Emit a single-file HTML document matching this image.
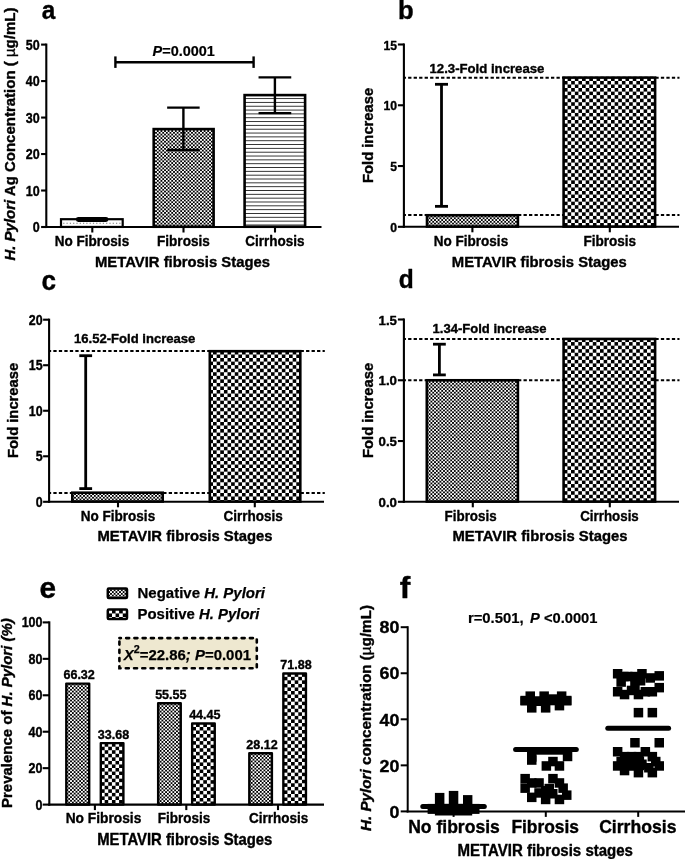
<!DOCTYPE html>
<html><head><meta charset="utf-8"><title>Figure</title>
<style>
html,body{margin:0;padding:0;background:#fff;}
body{width:685px;height:859px;overflow:hidden;font-family:"Liberation Sans",sans-serif;}
svg{display:block;will-change:transform;}
svg text{font-family:"Liberation Sans",sans-serif;fill:#000;stroke:#000;stroke-width:0.38px;stroke-linejoin:round;}
</style></head><body>
<svg width="685" height="859" viewBox="0 0 685 859">
<defs>
<pattern id="fine" width="3.6" height="3.56" patternUnits="userSpaceOnUse" x="0.3" y="0.2">
<rect width="3.6" height="3.56" fill="#fff"/><rect x="0" y="0" width="1.8" height="1.78" fill="#000"/><rect x="1.8" y="1.78" width="1.8" height="1.78" fill="#000"/>
</pattern>
<pattern id="chk" width="7.2" height="7.1" patternUnits="userSpaceOnUse" x="0.35" y="2.85">
<rect width="7.2" height="7.1" fill="#fff"/><rect x="0" y="0" width="3.6" height="3.55" fill="#000"/><rect x="3.6" y="3.55" width="3.6" height="3.55" fill="#000"/>
</pattern>
<pattern id="hl" width="10" height="3.83" patternUnits="userSpaceOnUse" y="98.1">
<rect width="10" height="3.83" fill="#fff"/><rect x="0" y="0" width="10" height="0.9" fill="#222"/>
</pattern>
<pattern id="dots" width="3.2" height="20" patternUnits="userSpaceOnUse" x="0" y="212">
<rect width="3.2" height="20" fill="#fff"/><rect x="0" y="10.5" width="1.2" height="1.2" fill="#777"/>
</pattern>
</defs>
<rect width="685" height="859" fill="#fff"/>

<text transform="translate(41.8,18.8) scale(0.92,1)" font-size="26.50" font-weight="bold" text-anchor="start" >a</text>
<text transform="translate(398.0,18.8) scale(0.97,1)" font-size="26.50" font-weight="bold" text-anchor="start" >b</text>
<text transform="translate(41.6,289.5) scale(0.96,1)" font-size="27.20" font-weight="bold" text-anchor="start" >c</text>
<text transform="translate(398.8,288.0) scale(0.98,1)" font-size="25.00" font-weight="bold" text-anchor="start" >d</text>
<text transform="translate(39.4,597.9) scale(1.0,1)" font-size="29.80" font-weight="bold" text-anchor="start" >e</text>
<text transform="translate(399.8,598.0) scale(1.05,1)" font-size="30.30" font-weight="bold" text-anchor="start" >f</text>
<line x1="46.3" y1="43.550000000000004" x2="46.3" y2="228.05" stroke="#000" stroke-width="2.1" />
<line x1="45.25" y1="227.0" x2="321.5" y2="227.0" stroke="#000" stroke-width="2.1" />
<line x1="41.099999999999994" y1="227.0" x2="46.3" y2="227.0" stroke="#000" stroke-width="2.1" />
<line x1="41.099999999999994" y1="190.51999999999998" x2="46.3" y2="190.51999999999998" stroke="#000" stroke-width="2.1" />
<line x1="41.099999999999994" y1="154.04" x2="46.3" y2="154.04" stroke="#000" stroke-width="2.1" />
<line x1="41.099999999999994" y1="117.56" x2="46.3" y2="117.56" stroke="#000" stroke-width="2.1" />
<line x1="41.099999999999994" y1="81.07999999999998" x2="46.3" y2="81.07999999999998" stroke="#000" stroke-width="2.1" />
<line x1="41.099999999999994" y1="44.599999999999994" x2="46.3" y2="44.599999999999994" stroke="#000" stroke-width="2.1" />
<line x1="92.3" y1="227.0" x2="92.3" y2="232.5" stroke="#000" stroke-width="2.1" />
<line x1="183.5" y1="227.0" x2="183.5" y2="232.5" stroke="#000" stroke-width="2.1" />
<line x1="275.0" y1="227.0" x2="275.0" y2="232.5" stroke="#000" stroke-width="2.1" />
<text transform="translate(39.6,232.2) scale(0.845,1)" font-size="14.80" font-weight="bold" text-anchor="end" >0</text>
<text transform="translate(39.6,195.71999999999997) scale(0.845,1)" font-size="14.80" font-weight="bold" text-anchor="end" >10</text>
<text transform="translate(39.6,159.23999999999998) scale(0.845,1)" font-size="14.80" font-weight="bold" text-anchor="end" >20</text>
<text transform="translate(39.6,122.76) scale(0.845,1)" font-size="14.80" font-weight="bold" text-anchor="end" >30</text>
<text transform="translate(39.6,86.27999999999999) scale(0.845,1)" font-size="14.80" font-weight="bold" text-anchor="end" >40</text>
<text transform="translate(39.6,49.8) scale(0.845,1)" font-size="14.80" font-weight="bold" text-anchor="end" >50</text>
<rect x="61.00" y="219.20" width="61.70" height="7.75" fill="#fff" stroke="#000" stroke-width="2.2"/>
<line x1="63.2" y1="223.2" x2="121" y2="223.2" stroke="#777" stroke-width="1.1" stroke-dasharray="1.2 2.1"/>
<rect x="153.70" y="129.10" width="59.90" height="97.65" fill="url(#fine)" stroke="#000" stroke-width="2.6"/>
<rect x="244.60" y="95.10" width="60.50" height="131.65" fill="url(#hl)" stroke="#000" stroke-width="2.6"/>
<rect x="75.9" y="216.9" width="32.5" height="5.1" rx="2.4" fill="#000"/>
<line x1="183.4" y1="107.6" x2="183.4" y2="150.0" stroke="#000" stroke-width="2.4" />
<line x1="167.15" y1="107.6" x2="199.65" y2="107.6" stroke="#000" stroke-width="2.4" />
<line x1="167.15" y1="150.0" x2="199.65" y2="150.0" stroke="#000" stroke-width="2.4" />
<line x1="274.9" y1="77.4" x2="274.9" y2="113.1" stroke="#000" stroke-width="2.4" />
<line x1="258.54999999999995" y1="77.4" x2="291.25" y2="77.4" stroke="#000" stroke-width="2.4" />
<line x1="258.54999999999995" y1="113.1" x2="291.25" y2="113.1" stroke="#000" stroke-width="2.4" />
<line x1="115.4" y1="62.2" x2="253.6" y2="62.2" stroke="#000" stroke-width="2.4" />
<line x1="115.4" y1="56.4" x2="115.4" y2="67.9" stroke="#000" stroke-width="2.4" />
<line x1="253.6" y1="56.4" x2="253.6" y2="67.9" stroke="#000" stroke-width="2.4" />
<text x="152.6" y="55.5" font-size="15.00" font-weight="bold" text-anchor="start" textLength="62.20" lengthAdjust="spacingAndGlyphs" style="stroke-width:0.2px"><tspan font-style="italic">P</tspan>=0.0001</text>
<text x="92.0" y="245.6" font-size="15.20" font-weight="bold" text-anchor="middle" textLength="74.30" lengthAdjust="spacingAndGlyphs" >No Fibrosis</text>
<text x="183.4" y="245.6" font-size="15.20" font-weight="bold" text-anchor="middle" textLength="52.70" lengthAdjust="spacingAndGlyphs" >Fibrosis</text>
<text x="274.9" y="245.6" font-size="15.20" font-weight="bold" text-anchor="middle" textLength="59.30" lengthAdjust="spacingAndGlyphs" >Cirrhosis</text>
<text x="182.5" y="266.7" font-size="15.40" font-weight="bold" text-anchor="middle" textLength="175.00" lengthAdjust="spacingAndGlyphs" >METAVIR fibrosis Stages</text>
<text transform="translate(14.9,260.6) rotate(-90)" font-size="14.20" font-weight="bold" text-anchor="start" textLength="253.00" lengthAdjust="spacingAndGlyphs"><tspan font-style="italic">H. Pylori</tspan> Ag Concentration ( <tspan font-weight="normal">µ</tspan>g/mL)</text>
<line x1="403.9" y1="43.45" x2="403.9" y2="227.85000000000002" stroke="#000" stroke-width="2.1" />
<line x1="402.84999999999997" y1="226.8" x2="679.0" y2="226.8" stroke="#000" stroke-width="2.1" />
<line x1="397.9" y1="226.8" x2="403.9" y2="226.8" stroke="#000" stroke-width="2.1" />
<line x1="397.9" y1="166.03333333333333" x2="403.9" y2="166.03333333333333" stroke="#000" stroke-width="2.1" />
<line x1="397.9" y1="105.26666666666667" x2="403.9" y2="105.26666666666667" stroke="#000" stroke-width="2.1" />
<line x1="397.9" y1="44.5" x2="403.9" y2="44.5" stroke="#000" stroke-width="2.1" />
<line x1="472.4" y1="226.8" x2="472.4" y2="232.3" stroke="#000" stroke-width="2.1" />
<line x1="609.8" y1="226.8" x2="609.8" y2="232.3" stroke="#000" stroke-width="2.1" />
<text transform="translate(397.0,232.0) scale(0.89,1)" font-size="13.70" font-weight="bold" text-anchor="end" >0</text>
<text transform="translate(397.0,171.23333333333332) scale(0.89,1)" font-size="13.70" font-weight="bold" text-anchor="end" >5</text>
<text transform="translate(397.0,110.46666666666667) scale(0.89,1)" font-size="13.70" font-weight="bold" text-anchor="end" >10</text>
<text transform="translate(397.0,49.7) scale(0.89,1)" font-size="13.70" font-weight="bold" text-anchor="end" >15</text>
<line x1="403.9" y1="77.65" x2="679.5" y2="77.65" stroke="#000" stroke-width="2.0" stroke-dasharray="3.3 2.194" stroke-dashoffset="1.25"/>
<line x1="403.9" y1="215.1" x2="679.5" y2="215.1" stroke="#000" stroke-width="2.0" stroke-dasharray="3.3 2.194" stroke-dashoffset="1.25"/>
<rect x="427.00" y="215.25" width="90.90" height="11.30" fill="url(#fine)" stroke="#000" stroke-width="2.6"/>
<pattern id="p1" width="7.24" height="7.1" patternUnits="userSpaceOnUse" x="563.95" y="80.95"><rect width="7.24" height="7.1" fill="#fff"/><rect width="3.62" height="3.55" fill="#000"/><rect x="3.62" y="3.55" width="3.62" height="3.55" fill="#000"/></pattern>
<rect x="563.60" y="77.60" width="91.50" height="148.95" fill="url(#p1)" stroke="#000" stroke-width="2.6"/>
<line x1="441.5" y1="84.3" x2="441.5" y2="206.35" stroke="#000" stroke-width="2.8" />
<line x1="435.0" y1="84.3" x2="448.0" y2="84.3" stroke="#000" stroke-width="2.8" />
<line x1="435.0" y1="206.35" x2="448.0" y2="206.35" stroke="#000" stroke-width="2.8" />
<text x="429.5" y="72.5" font-size="13.50" font-weight="bold" text-anchor="start" textLength="114.90" lengthAdjust="spacingAndGlyphs" >12.3-Fold increase</text>
<text x="471.0" y="245.6" font-size="15.20" font-weight="bold" text-anchor="middle" textLength="74.30" lengthAdjust="spacingAndGlyphs" >No Fibrosis</text>
<text x="609.8" y="245.6" font-size="15.20" font-weight="bold" text-anchor="middle" textLength="52.70" lengthAdjust="spacingAndGlyphs" >Fibrosis</text>
<text x="539.3" y="266.7" font-size="15.40" font-weight="bold" text-anchor="middle" textLength="175.00" lengthAdjust="spacingAndGlyphs" >METAVIR fibrosis Stages</text>
<text transform="translate(372.7,183.0) rotate(-90)" font-size="15.00" font-weight="bold" text-anchor="start" textLength="95.20" lengthAdjust="spacingAndGlyphs">Fold increase</text>
<line x1="49.1" y1="318.65" x2="49.1" y2="502.85" stroke="#000" stroke-width="2.1" />
<line x1="48.050000000000004" y1="501.8" x2="324.0" y2="501.8" stroke="#000" stroke-width="2.1" />
<line x1="43.1" y1="501.8" x2="49.1" y2="501.8" stroke="#000" stroke-width="2.1" />
<line x1="43.1" y1="456.275" x2="49.1" y2="456.275" stroke="#000" stroke-width="2.1" />
<line x1="43.1" y1="410.75" x2="49.1" y2="410.75" stroke="#000" stroke-width="2.1" />
<line x1="43.1" y1="365.225" x2="49.1" y2="365.225" stroke="#000" stroke-width="2.1" />
<line x1="43.1" y1="319.7" x2="49.1" y2="319.7" stroke="#000" stroke-width="2.1" />
<line x1="118.0" y1="501.8" x2="118.0" y2="507.3" stroke="#000" stroke-width="2.1" />
<line x1="254.8" y1="501.8" x2="254.8" y2="507.3" stroke="#000" stroke-width="2.1" />
<text transform="translate(42.6,507.0) scale(0.9,1)" font-size="13.80" font-weight="bold" text-anchor="end" >0</text>
<text transform="translate(42.6,461.47499999999997) scale(0.9,1)" font-size="13.80" font-weight="bold" text-anchor="end" >5</text>
<text transform="translate(42.6,415.95) scale(0.9,1)" font-size="13.80" font-weight="bold" text-anchor="end" >10</text>
<text transform="translate(42.6,370.425) scale(0.9,1)" font-size="13.80" font-weight="bold" text-anchor="end" >15</text>
<text transform="translate(42.6,324.9) scale(0.9,1)" font-size="13.80" font-weight="bold" text-anchor="end" >20</text>
<line x1="49.1" y1="351.1" x2="324.8" y2="351.1" stroke="#000" stroke-width="2.0" stroke-dasharray="3.3 2.194" stroke-dashoffset="1.25"/>
<line x1="49.1" y1="492.9" x2="324.8" y2="492.9" stroke="#000" stroke-width="2.0" stroke-dasharray="3.3 2.194" stroke-dashoffset="1.25"/>
<rect x="72.30" y="492.70" width="90.40" height="8.85" fill="url(#fine)" stroke="#000" stroke-width="2.6"/>
<pattern id="p2" width="7.24" height="7.1" patternUnits="userSpaceOnUse" x="209.40" y="354.50"><rect width="7.24" height="7.1" fill="#fff"/><rect width="3.62" height="3.55" fill="#000"/><rect x="3.62" y="3.55" width="3.62" height="3.55" fill="#000"/></pattern>
<rect x="209.80" y="351.20" width="90.50" height="150.35" fill="url(#p2)" stroke="#000" stroke-width="2.6"/>
<line x1="85.7" y1="355.7" x2="85.7" y2="488.6" stroke="#000" stroke-width="2.8" />
<line x1="79.3" y1="355.7" x2="92.10000000000001" y2="355.7" stroke="#000" stroke-width="2.8" />
<line x1="79.3" y1="488.6" x2="92.10000000000001" y2="488.6" stroke="#000" stroke-width="2.8" />
<text x="74.0" y="342.8" font-size="13.50" font-weight="bold" text-anchor="start" textLength="121.40" lengthAdjust="spacingAndGlyphs" >16.52-Fold increase</text>
<text x="118.0" y="520.5" font-size="15.20" font-weight="bold" text-anchor="middle" textLength="74.30" lengthAdjust="spacingAndGlyphs" >No Fibrosis</text>
<text x="253.1" y="520.5" font-size="15.20" font-weight="bold" text-anchor="middle" textLength="59.30" lengthAdjust="spacingAndGlyphs" >Cirrhosis</text>
<text x="185.0" y="540.6" font-size="15.40" font-weight="bold" text-anchor="middle" textLength="175.00" lengthAdjust="spacingAndGlyphs" >METAVIR fibrosis Stages</text>
<text transform="translate(17.8,458.0) rotate(-90)" font-size="15.00" font-weight="bold" text-anchor="start" textLength="95.20" lengthAdjust="spacingAndGlyphs">Fold increase</text>
<line x1="403.9" y1="318.45" x2="403.9" y2="502.85" stroke="#000" stroke-width="2.1" />
<line x1="402.84999999999997" y1="501.8" x2="679.0" y2="501.8" stroke="#000" stroke-width="2.1" />
<line x1="397.9" y1="501.8" x2="403.9" y2="501.8" stroke="#000" stroke-width="2.1" />
<line x1="397.9" y1="441.03333333333336" x2="403.9" y2="441.03333333333336" stroke="#000" stroke-width="2.1" />
<line x1="397.9" y1="380.26666666666665" x2="403.9" y2="380.26666666666665" stroke="#000" stroke-width="2.1" />
<line x1="397.9" y1="319.5" x2="403.9" y2="319.5" stroke="#000" stroke-width="2.1" />
<line x1="472.8" y1="501.8" x2="472.8" y2="507.3" stroke="#000" stroke-width="2.1" />
<line x1="609.8" y1="501.8" x2="609.8" y2="507.3" stroke="#000" stroke-width="2.1" />
<text transform="translate(397.0,507.0) scale(0.97,1)" font-size="13.70" font-weight="bold" text-anchor="end" >0.0</text>
<text transform="translate(397.0,446.23333333333335) scale(0.97,1)" font-size="13.70" font-weight="bold" text-anchor="end" >0.5</text>
<text transform="translate(397.0,385.46666666666664) scale(0.97,1)" font-size="13.70" font-weight="bold" text-anchor="end" >1.0</text>
<text transform="translate(397.0,324.7) scale(0.97,1)" font-size="13.70" font-weight="bold" text-anchor="end" >1.5</text>
<line x1="403.9" y1="338.94533333333334" x2="679.5" y2="338.94533333333334" stroke="#000" stroke-width="2.0" stroke-dasharray="3.3 2.194" stroke-dashoffset="1.25"/>
<line x1="403.9" y1="380.26666666666665" x2="679.5" y2="380.26666666666665" stroke="#000" stroke-width="2.0" stroke-dasharray="3.3 2.194" stroke-dashoffset="1.25"/>
<rect x="426.80" y="380.27" width="91.10" height="121.28" fill="url(#fine)" stroke="#000" stroke-width="2.6"/>
<pattern id="p3" width="7.24" height="7.1" patternUnits="userSpaceOnUse" x="563.80" y="342.10"><rect width="7.24" height="7.1" fill="#fff"/><rect width="3.62" height="3.55" fill="#000"/><rect x="3.62" y="3.55" width="3.62" height="3.55" fill="#000"/></pattern>
<rect x="563.60" y="338.95" width="91.50" height="162.60" fill="url(#p3)" stroke="#000" stroke-width="2.6"/>
<line x1="439.4" y1="344.2" x2="439.4" y2="374.9" stroke="#000" stroke-width="2.8" />
<line x1="433.0" y1="344.2" x2="445.79999999999995" y2="344.2" stroke="#000" stroke-width="2.8" />
<line x1="433.0" y1="374.9" x2="445.79999999999995" y2="374.9" stroke="#000" stroke-width="2.8" />
<text x="432.5" y="333.1" font-size="13.50" font-weight="bold" text-anchor="start" textLength="114.00" lengthAdjust="spacingAndGlyphs" >1.34-Fold increase</text>
<text x="470.6" y="520.5" font-size="15.20" font-weight="bold" text-anchor="middle" textLength="52.00" lengthAdjust="spacingAndGlyphs" >Fibrosis</text>
<text x="609.5" y="520.5" font-size="15.20" font-weight="bold" text-anchor="middle" textLength="58.50" lengthAdjust="spacingAndGlyphs" >Cirrhosis</text>
<text x="540.0" y="540.6" font-size="15.40" font-weight="bold" text-anchor="middle" textLength="175.00" lengthAdjust="spacingAndGlyphs" >METAVIR fibrosis Stages</text>
<text transform="translate(372.7,458.0) rotate(-90)" font-size="15.00" font-weight="bold" text-anchor="start" textLength="95.20" lengthAdjust="spacingAndGlyphs">Fold increase</text>
<line x1="49.3" y1="621.35" x2="49.3" y2="805.65" stroke="#000" stroke-width="2.1" />
<line x1="48.25" y1="804.6" x2="324.0" y2="804.6" stroke="#000" stroke-width="2.1" />
<line x1="42.699999999999996" y1="804.6" x2="49.3" y2="804.6" stroke="#000" stroke-width="2.1" />
<line x1="42.699999999999996" y1="768.16" x2="49.3" y2="768.16" stroke="#000" stroke-width="2.1" />
<line x1="42.699999999999996" y1="731.72" x2="49.3" y2="731.72" stroke="#000" stroke-width="2.1" />
<line x1="42.699999999999996" y1="695.28" x2="49.3" y2="695.28" stroke="#000" stroke-width="2.1" />
<line x1="42.699999999999996" y1="658.8399999999999" x2="49.3" y2="658.8399999999999" stroke="#000" stroke-width="2.1" />
<line x1="42.699999999999996" y1="622.4" x2="49.3" y2="622.4" stroke="#000" stroke-width="2.1" />
<line x1="94.9" y1="804.6" x2="94.9" y2="810.1" stroke="#000" stroke-width="2.1" />
<line x1="186.3" y1="804.6" x2="186.3" y2="810.1" stroke="#000" stroke-width="2.1" />
<line x1="278.0" y1="804.6" x2="278.0" y2="810.1" stroke="#000" stroke-width="2.1" />
<text transform="translate(42.5,809.6) scale(0.845,1)" font-size="14.80" font-weight="bold" text-anchor="end" >0</text>
<text transform="translate(42.5,773.16) scale(0.845,1)" font-size="14.80" font-weight="bold" text-anchor="end" >20</text>
<text transform="translate(42.5,736.72) scale(0.845,1)" font-size="14.80" font-weight="bold" text-anchor="end" >40</text>
<text transform="translate(42.5,700.28) scale(0.845,1)" font-size="14.80" font-weight="bold" text-anchor="end" >60</text>
<text transform="translate(42.5,663.8399999999999) scale(0.845,1)" font-size="14.80" font-weight="bold" text-anchor="end" >80</text>
<text transform="translate(42.5,627.4) scale(0.845,1)" font-size="14.80" font-weight="bold" text-anchor="end" >100</text>
<pattern id="p4" width="3.64" height="3.58" patternUnits="userSpaceOnUse" x="70.10" y="685.30"><rect width="3.64" height="3.58" fill="#fff"/><rect width="1.82" height="1.79" fill="#000"/><rect x="1.82" y="1.79" width="1.82" height="1.79" fill="#000"/></pattern>
<rect x="66.30" y="683.61" width="22.90" height="120.84" fill="url(#p4)" stroke="#000" stroke-width="2.4" stroke-linejoin="round"/>
<text x="79.15" y="679.0649599999999" font-size="13.60" font-weight="bold" text-anchor="middle" textLength="31.40" lengthAdjust="spacingAndGlyphs" >66.32</text>
<pattern id="p5" width="7.24" height="7.1" patternUnits="userSpaceOnUse" x="108.26" y="746.70"><rect width="7.24" height="7.1" fill="#fff"/><rect width="3.62" height="3.55" fill="#000"/><rect x="3.62" y="3.55" width="3.62" height="3.55" fill="#000"/></pattern>
<rect x="100.80" y="743.09" width="22.60" height="61.36" fill="url(#p5)" stroke="#000" stroke-width="2.4" stroke-linejoin="round"/>
<text x="113.5" y="738.53504" font-size="13.60" font-weight="bold" text-anchor="middle" textLength="31.40" lengthAdjust="spacingAndGlyphs" >33.68</text>
<pattern id="p6" width="3.64" height="3.58" patternUnits="userSpaceOnUse" x="161.50" y="705.30"><rect width="3.64" height="3.58" fill="#fff"/><rect width="1.82" height="1.79" fill="#000"/><rect x="1.82" y="1.79" width="1.82" height="1.79" fill="#000"/></pattern>
<rect x="158.15" y="703.24" width="22.60" height="101.21" fill="url(#p6)" stroke="#000" stroke-width="2.4" stroke-linejoin="round"/>
<text x="170.85" y="698.6878999999999" font-size="13.60" font-weight="bold" text-anchor="middle" textLength="31.40" lengthAdjust="spacingAndGlyphs" >55.55</text>
<pattern id="p7" width="7.24" height="7.1" patternUnits="userSpaceOnUse" x="199.67" y="726.94"><rect width="7.24" height="7.1" fill="#fff"/><rect width="3.62" height="3.55" fill="#000"/><rect x="3.62" y="3.55" width="3.62" height="3.55" fill="#000"/></pattern>
<rect x="192.15" y="723.46" width="22.60" height="80.99" fill="url(#p7)" stroke="#000" stroke-width="2.4" stroke-linejoin="round"/>
<text x="204.85" y="718.9121" font-size="13.60" font-weight="bold" text-anchor="middle" textLength="31.40" lengthAdjust="spacingAndGlyphs" >44.45</text>
<pattern id="p8" width="3.64" height="3.58" patternUnits="userSpaceOnUse" x="252.60" y="755.20"><rect width="3.64" height="3.58" fill="#fff"/><rect width="1.82" height="1.79" fill="#000"/><rect x="1.82" y="1.79" width="1.82" height="1.79" fill="#000"/></pattern>
<rect x="249.30" y="753.22" width="22.60" height="51.23" fill="url(#p8)" stroke="#000" stroke-width="2.4" stroke-linejoin="round"/>
<text x="262.0" y="748.66536" font-size="13.60" font-weight="bold" text-anchor="middle" textLength="31.40" lengthAdjust="spacingAndGlyphs" >28.12</text>
<pattern id="p9" width="7.24" height="7.1" patternUnits="userSpaceOnUse" x="291.06" y="676.80"><rect width="7.24" height="7.1" fill="#fff"/><rect width="3.62" height="3.55" fill="#000"/><rect x="3.62" y="3.55" width="3.62" height="3.55" fill="#000"/></pattern>
<rect x="283.35" y="673.48" width="22.60" height="130.97" fill="url(#p9)" stroke="#000" stroke-width="2.4" stroke-linejoin="round"/>
<text x="296.04999999999995" y="668.93464" font-size="13.60" font-weight="bold" text-anchor="middle" textLength="31.40" lengthAdjust="spacingAndGlyphs" >71.88</text>
<rect x="107.8" y="588.4" width="19.2" height="9.5" rx="1" fill="url(#fine)" stroke="#000" stroke-width="2.5"/>
<rect x="107.8" y="609.5" width="19.2" height="9.5" rx="1" fill="url(#chk)" stroke="#000" stroke-width="2.5"/>
<text x="137.5" y="597.7" font-size="15.00" font-weight="bold" text-anchor="start" textLength="127.50" lengthAdjust="spacingAndGlyphs" style="stroke-width:0.25px">Negative <tspan font-style="italic">H. Pylori</tspan></text>
<text x="137.5" y="618.7" font-size="15.00" font-weight="bold" text-anchor="start" textLength="122.00" lengthAdjust="spacingAndGlyphs" style="stroke-width:0.25px">Positive <tspan font-style="italic">H. Pylori</tspan></text>
<rect x="119.4" y="638.1" width="137.4" height="30.1" fill="#EEE8D0"/><rect x="119.4" y="638.1" width="137.4" height="30.1" fill="none" stroke="#000" stroke-width="2.6" stroke-dasharray="3.0 5.25" stroke-linecap="round" stroke-dashoffset="1.5"/>
<text x="123.8" y="660.4" font-size="15.20" font-weight="bold" text-anchor="start" textLength="127.20" lengthAdjust="spacingAndGlyphs" style="stroke-width:0.25px"><tspan font-style="italic">X</tspan><tspan font-size="11" dy="-7.2">2</tspan><tspan dy="7.2">=22.86</tspan><tspan font-style="italic">; P</tspan>=0.001</text>
<text x="103.5" y="822.6" font-size="15.20" font-weight="bold" text-anchor="middle" textLength="75.60" lengthAdjust="spacingAndGlyphs" >No Fibrosis</text>
<text x="184.0" y="822.6" font-size="15.20" font-weight="bold" text-anchor="middle" textLength="52.40" lengthAdjust="spacingAndGlyphs" >Fibrosis</text>
<text x="278.6" y="822.6" font-size="15.20" font-weight="bold" text-anchor="middle" textLength="59.20" lengthAdjust="spacingAndGlyphs" >Cirrhosis</text>
<text x="184.8" y="845.0" font-size="16.40" font-weight="bold" text-anchor="middle" textLength="175.20" lengthAdjust="spacingAndGlyphs" >METAVIR fibrosis Stages</text>
<text transform="translate(11.8,808.0) rotate(-90)" font-size="15.50" font-weight="bold" text-anchor="start" textLength="189.80" lengthAdjust="spacingAndGlyphs">Prevalence of <tspan font-style="italic">H. Pylori (%)</tspan></text>
<line x1="407.7" y1="626.2" x2="407.7" y2="812.4" stroke="#000" stroke-width="2.0" />
<line x1="406.7" y1="811.4" x2="685.5" y2="811.4" stroke="#000" stroke-width="2.0" />
<line x1="400.7" y1="811.4" x2="407.7" y2="811.4" stroke="#000" stroke-width="2.0" />
<line x1="400.7" y1="765.35" x2="407.7" y2="765.35" stroke="#000" stroke-width="2.0" />
<line x1="400.7" y1="719.3" x2="407.7" y2="719.3" stroke="#000" stroke-width="2.0" />
<line x1="400.7" y1="673.25" x2="407.7" y2="673.25" stroke="#000" stroke-width="2.0" />
<line x1="400.7" y1="627.2" x2="407.7" y2="627.2" stroke="#000" stroke-width="2.0" />
<line x1="453.6" y1="811.4" x2="453.6" y2="816.9" stroke="#000" stroke-width="2.0" />
<line x1="545.8" y1="811.4" x2="545.8" y2="816.9" stroke="#000" stroke-width="2.0" />
<line x1="638.2" y1="811.4" x2="638.2" y2="816.9" stroke="#000" stroke-width="2.0" />
<text transform="translate(399.4,817.6) scale(1.05,1)" font-size="17.00" font-weight="bold" text-anchor="end" >0</text>
<text transform="translate(399.4,771.5500000000001) scale(1.05,1)" font-size="17.00" font-weight="bold" text-anchor="end" >20</text>
<text transform="translate(399.4,725.5) scale(1.05,1)" font-size="17.00" font-weight="bold" text-anchor="end" >40</text>
<text transform="translate(399.4,679.45) scale(1.05,1)" font-size="17.00" font-weight="bold" text-anchor="end" >60</text>
<text transform="translate(399.4,633.4000000000001) scale(1.05,1)" font-size="17.00" font-weight="bold" text-anchor="end" >80</text>
<text x="467.9" y="622.6" font-size="15.00" font-weight="bold" text-anchor="start" textLength="55.80" lengthAdjust="spacingAndGlyphs" style="stroke-width:0.2px">r=0.501,</text>
<text x="530.0" y="622.6" font-size="15.00" font-weight="bold" text-anchor="start" textLength="67.50" lengthAdjust="spacingAndGlyphs" style="stroke-width:0.2px"><tspan font-style="italic">P</tspan> &lt;0.0001</text>
<text x="454.0" y="833.4" font-size="17.90" font-weight="bold" text-anchor="middle" textLength="91.60" lengthAdjust="spacingAndGlyphs" >No fibrosis</text>
<text x="545.2" y="833.4" font-size="17.90" font-weight="bold" text-anchor="middle" textLength="67.60" lengthAdjust="spacingAndGlyphs" >Fibrosis</text>
<text x="637.8" y="833.4" font-size="17.90" font-weight="bold" text-anchor="middle" textLength="77.30" lengthAdjust="spacingAndGlyphs" >Cirrhosis</text>
<text x="545.2" y="856.0" font-size="15.80" font-weight="bold" text-anchor="middle" textLength="175.60" lengthAdjust="spacingAndGlyphs" >METAVIR fibrosis stages</text>
<text transform="translate(370.8,831.0) rotate(-90)" font-size="15.00" font-weight="bold" text-anchor="start" textLength="226.00" lengthAdjust="spacingAndGlyphs"><tspan font-style="italic">H. Pylori</tspan> concentration (<tspan font-weight="normal">µ</tspan>g/mL)</text>
<line x1="422.8" y1="806.5" x2="484.3" y2="806.5" stroke="#000" stroke-width="5.0" stroke-linecap="round"/>
<rect x="427.6" y="803.9" width="51.9" height="10.0" fill="#000"/>
<rect x="434.9" y="803.9" width="37.3" height="11.6" fill="#000"/>
<rect x="434.9" y="792.9" width="9.5" height="12" fill="#000"/>
<rect x="448.8" y="790.9" width="9.5" height="14" fill="#000"/>
<rect x="463.0" y="795.1" width="9.4" height="10" fill="#000"/>
<line x1="515.6" y1="749.5" x2="576.3" y2="749.5" stroke="#000" stroke-width="5.0" stroke-linecap="round"/>
<rect x="527.0" y="755.3" width="9.5" height="9.5" fill="#000"/>
<rect x="562.8" y="751.7" width="9.5" height="9.5" fill="#000"/>
<rect x="548.2" y="756.8" width="9.5" height="9.5" fill="#000"/>
<rect x="541.6" y="761.2" width="9.5" height="9.5" fill="#000"/>
<rect x="554.7" y="761.2" width="9.5" height="9.5" fill="#000"/>
<rect x="520.4" y="773.9" width="9.5" height="9.5" fill="#000"/>
<rect x="520.4" y="783.4" width="9.5" height="9.5" fill="#000"/>
<rect x="534.3" y="778.2" width="9.5" height="9.5" fill="#000"/>
<rect x="548.2" y="773.9" width="9.5" height="9.5" fill="#000"/>
<rect x="554.7" y="778.2" width="9.5" height="9.5" fill="#000"/>
<rect x="558.4" y="783.4" width="9.5" height="9.5" fill="#000"/>
<rect x="527.0" y="792.6" width="9.5" height="9.5" fill="#000"/>
<rect x="540.9" y="794.7" width="9.5" height="9.5" fill="#000"/>
<rect x="554.7" y="794.7" width="9.5" height="9.5" fill="#000"/>
<rect x="562.0" y="790.4" width="9.5" height="9.5" fill="#000"/>
<rect x="534.3" y="788.2" width="9.5" height="9.5" fill="#000"/>
<rect x="544.5" y="783.8" width="9.5" height="9.5" fill="#000"/>
<rect x="520.4" y="695.8" width="9.5" height="9.5" fill="#000"/>
<rect x="525.5" y="691.4" width="9.5" height="9.5" fill="#000"/>
<rect x="527.0" y="703.1" width="9.5" height="9.5" fill="#000"/>
<rect x="539.4" y="691.4" width="9.5" height="9.5" fill="#000"/>
<rect x="540.9" y="703.1" width="9.5" height="9.5" fill="#000"/>
<rect x="534.3" y="696.5" width="9.5" height="9.5" fill="#000"/>
<rect x="548.2" y="694.3" width="9.5" height="9.5" fill="#000"/>
<rect x="556.9" y="691.4" width="9.5" height="9.5" fill="#000"/>
<rect x="562.0" y="695.8" width="9.5" height="9.5" fill="#000"/>
<rect x="554.7" y="700.9" width="9.5" height="9.5" fill="#000"/>
<rect x="527.0" y="750.5" width="44.6" height="4.2" fill="#000"/>
<rect x="527.0" y="752.2" width="9.5" height="9.5" fill="#000"/>
<rect x="527.0" y="778.2" width="9.5" height="9.5" fill="#000"/>
<rect x="541.0" y="786.0" width="9.5" height="9.5" fill="#000"/>
<rect x="548.0" y="789.0" width="9.5" height="9.5" fill="#000"/>
<rect x="520.4" y="696.5" width="51.0" height="8.8" fill="#000"/>
<line x1="607.8" y1="728.2" x2="668.6" y2="728.2" stroke="#000" stroke-width="5.0" stroke-linecap="round"/>
<rect x="612.9" y="669.0" width="9.5" height="9.5" fill="#000"/>
<rect x="619.1" y="671.8" width="9.5" height="9.5" fill="#000"/>
<rect x="637.2" y="669.0" width="9.5" height="9.5" fill="#000"/>
<rect x="630.2" y="671.8" width="9.5" height="9.5" fill="#000"/>
<rect x="645.5" y="673.2" width="9.5" height="9.5" fill="#000"/>
<rect x="654.5" y="671.1" width="9.5" height="9.5" fill="#000"/>
<rect x="616.4" y="677.3" width="9.5" height="9.5" fill="#000"/>
<rect x="635.8" y="676.0" width="9.5" height="9.5" fill="#000"/>
<rect x="654.5" y="682.9" width="9.5" height="9.5" fill="#000"/>
<rect x="612.9" y="687.0" width="9.5" height="9.5" fill="#000"/>
<rect x="619.8" y="689.8" width="9.5" height="9.5" fill="#000"/>
<rect x="626.8" y="685.7" width="9.5" height="9.5" fill="#000"/>
<rect x="633.7" y="689.8" width="9.5" height="9.5" fill="#000"/>
<rect x="640.6" y="687.0" width="9.5" height="9.5" fill="#000"/>
<rect x="647.6" y="687.0" width="9.5" height="9.5" fill="#000"/>
<rect x="630.2" y="680.8" width="9.5" height="9.5" fill="#000"/>
<rect x="633.7" y="707.9" width="9.5" height="9.5" fill="#000"/>
<rect x="647.6" y="707.9" width="9.5" height="9.5" fill="#000"/>
<rect x="630.2" y="738.0" width="9.5" height="9.5" fill="#000"/>
<rect x="654.5" y="738.0" width="9.5" height="9.5" fill="#000"/>
<rect x="612.9" y="747.0" width="9.5" height="9.5" fill="#000"/>
<rect x="640.6" y="747.0" width="9.5" height="9.5" fill="#000"/>
<rect x="619.8" y="751.9" width="9.5" height="9.5" fill="#000"/>
<rect x="626.8" y="751.9" width="9.5" height="9.5" fill="#000"/>
<rect x="633.7" y="751.9" width="9.5" height="9.5" fill="#000"/>
<rect x="647.6" y="751.9" width="9.5" height="9.5" fill="#000"/>
<rect x="616.4" y="756.8" width="9.5" height="9.5" fill="#000"/>
<rect x="651.0" y="756.8" width="9.5" height="9.5" fill="#000"/>
<rect x="612.9" y="761.2" width="9.5" height="9.5" fill="#000"/>
<rect x="654.5" y="761.2" width="9.5" height="9.5" fill="#000"/>
<rect x="619.8" y="765.8" width="9.5" height="9.5" fill="#000"/>
<rect x="633.7" y="767.9" width="9.5" height="9.5" fill="#000"/>
<rect x="647.6" y="767.9" width="9.5" height="9.5" fill="#000"/>
<rect x="626.8" y="761.2" width="9.5" height="9.5" fill="#000"/>
<rect x="637.2" y="759.5" width="9.5" height="9.5" fill="#000"/>
<rect x="644.1" y="763.0" width="9.5" height="9.5" fill="#000"/>
<rect x="623.0" y="671.8" width="9.5" height="9.5" fill="#000"/>
<rect x="622.2" y="756.3" width="21.9" height="13.9" fill="#000"/>
</svg></body></html>
